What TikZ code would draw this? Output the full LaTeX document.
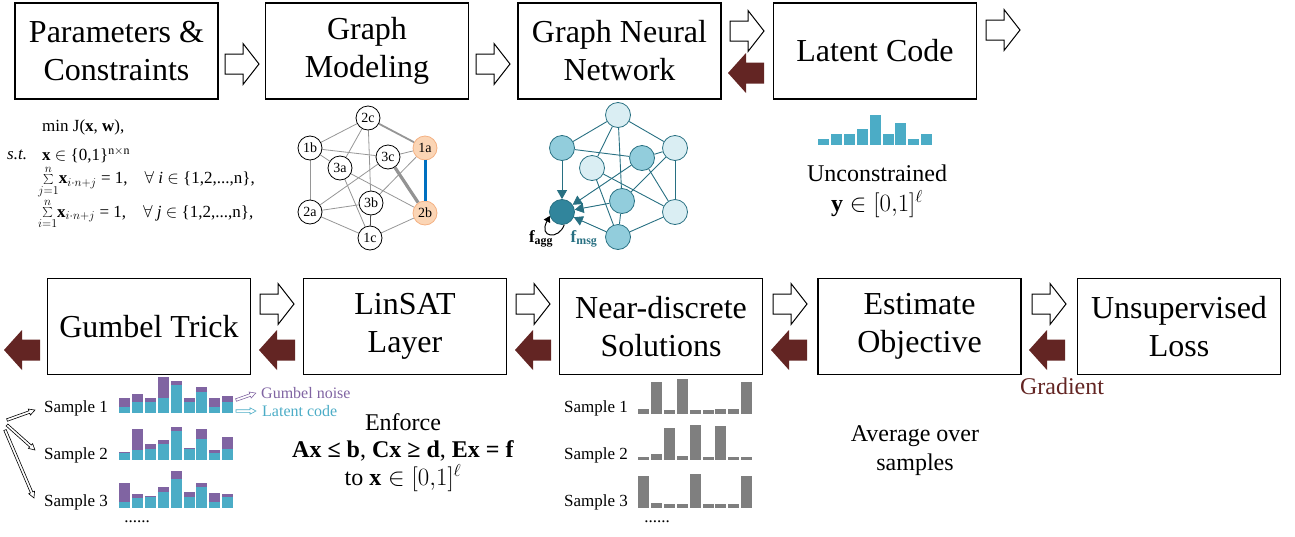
\documentclass[tikz,border=0pt]{standalone}
\usepackage{fontspec}
\setmainfont{Liberation Serif}
\usetikzlibrary{arrows.meta,backgrounds}
\definecolor{darkred}{RGB}{99,37,35}
\definecolor{tealbar}{RGB}{75,172,198}
\definecolor{purp}{RGB}{128,100,162}
\definecolor{gbar}{RGB}{127,127,127}
\definecolor{gline}{RGB}{150,150,150}
\definecolor{blueedge}{RGB}{0,112,192}
\definecolor{orfill}{RGB}{251,213,181}
\definecolor{ordraw}{RGB}{244,177,131}
\definecolor{gnnlight}{RGB}{218,238,243}
\definecolor{gnnmed}{RGB}{146,205,220}
\definecolor{gnndark}{RGB}{49,133,156}
\definecolor{gnnedge}{RGB}{40,112,130}
\tikzset{
  box/.style={draw, line width=1.2pt, minimum width=203pt, minimum height=96pt,
    align=center, inner sep=0pt, font=\fontsize{32}{38}\selectfont},
  txt/.style={inner sep=0pt, font=\fontsize{24}{29}\selectfont, align=center},
  small/.style={inner sep=0pt, font=\fontsize{17}{20}\selectfont},
  formula/.style={inner sep=0pt, anchor=west, font=\fontsize{17}{20}\selectfont},
  warrow/.pic={\draw[line width=1pt, fill=white] (-17,-10) -- (1,-10) -- (1,-20.5) -- (17,0) -- (1,20.5) -- (1,10) -- (-17,10) -- cycle;},
  darrow/.pic={\fill[darkred] (-18,0) -- (0,-20) -- (0,-10.5) -- (18,-10.5) -- (18,10.5) -- (0,10.5) -- (0,20) -- cycle;},
  hollow/.pic={\draw[pic actions, line width=0.6pt, fill=white] (0,-1.3) -- ({#1-6},-1.3) -- ({#1-6},-3.2) -- (#1,0) -- ({#1-6},3.2) -- ({#1-6},1.3) -- (0,1.3) -- cycle;},
  gnode/.style={circle, draw, line width=0.8pt, minimum size=24pt, inner sep=0pt, fill=white, font=\fontsize{14}{14}\selectfont},
  nnode/.style={circle, draw=gnnedge, line width=0.8pt, minimum size=25pt, inner sep=0pt},
  gedge/.style={draw=gline, line width=0.8pt},
  nedge/.style={draw=gnnedge, line width=0.9pt},
  msg/.style={-{Triangle[length=9pt,width=10pt]}, draw=gnnedge, fill=gnnedge, line width=0.9pt}
}
\begin{document}
\begin{tikzpicture}[x=1pt,y=-1pt]
\useasboundingbox (0,0) rectangle (1295,536);
% ---------- top row boxes ----------
\node[box] (params) at (116.5,51) {Parameters \&\\Constraints};
\node[box] (model) at (367,51) {Graph\\Modeling};
\node[box] (gnn) at (619.5,51) {Graph Neural\\Network};
\node[box] (latent) at (875,51) {Latent Code};
% ---------- bottom row boxes ----------
\node[box] (gumbel) at (149,326.5) {Gumbel Trick};
\node[box] (linsat) at (405,326.5) {LinSAT\\Layer};
\node[box] (near) at (661,326.5) {Near-discrete\\Solutions};
\node[box] (est) at (919.5,326.5) {Estimate\\Objective};
\node[box] (loss) at (1179,326.5) {Unsupervised\\Loss};
% ---------- block arrows ----------
\pic at (242,64) {warrow};
\pic at (493,64) {warrow};
\pic at (747,31) {warrow};
\pic at (746,73) {darrow};
\pic at (1003,30) {warrow};
\pic at (277,304) {warrow};
\pic at (277,350) {darrow};
\pic at (533,304) {warrow};
\pic at (533,350) {darrow};
\pic at (790,304) {warrow};
\pic at (789,350) {darrow};
\pic at (1049,304) {warrow};
\pic at (1047,350) {darrow};
\pic at (22,350) {darrow};
\node[txt, text=darkred] (grad) at (1062,386) {Gradient};
% ---------- formula ----------
\node[formula] (f1) at (42,127) {min J(\textbf{x}, \textbf{w}),};
\node[formula] (f2a) at (7,155) {\textit{s.t.}};
\node[formula] (f2) at (42,155) {\textbf{x} $\in$ \{0,1\}$^{\mathrm{n}\times\mathrm{n}}$};
\node[formula] (f3) at (38,182) {$\sum\limits_{j=1}^{n}$\textbf{x}$_{i\cdot n+j}$ = 1,\quad$\forall$ \textit{i} $\in$ \{1,2,...,n\},};
\node[formula] (f4) at (38,214) {$\sum\limits_{i=1}^{n}$\textbf{x}$_{i\cdot n+j}$ = 1,\quad$\forall$ \textit{j} $\in$ \{1,2,...,n\},};
% ---------- graph modeling ----------
\node[gnode] (n2c) at (368,118) {2c};
\node[gnode] (n1b) at (310,148) {1b};
\node[gnode] (n3a) at (340,168) {3a};
\node[gnode] (n3c) at (388,157) {3c};
\node[gnode, fill=orfill, draw=ordraw] (n1a) at (425,148) {1a};
\node[gnode] (n2a) at (310,212) {2a};
\node[gnode] (n3b) at (371,203) {3b};
\node[gnode, fill=orfill, draw=ordraw] (n2b) at (425,213) {2b};
\node[gnode] (n1c) at (370,238) {1c};
\begin{scope}[on background layer]
\draw[gedge] (n2c) -- (n1b);
\draw[gedge] (n2c) -- (n3a);
\draw[gedge] (n2c) -- (n3b);
\draw[gedge, line width=1.8pt] (n2c) -- (n1a);
\draw[gedge] (n1b) -- (n3c);
\draw[gedge] (n1b) -- (n3a);
\draw[gedge] (n1b) -- (n2a);
\draw[gedge] (n3a) -- (n2b);
\draw[gedge] (n3a) -- (n1c);
\draw[gedge] (n3c) -- (n2a);
\draw[gedge] (n3c) -- (n1a);
\draw[gedge, line width=3.2pt, draw=gray!85] (n3c) -- (n2b);
\draw[gedge] (n1a) -- (n3b);
\draw[gedge] (n2a) -- (n3b);
\draw[gedge] (n2a) -- (n1c);
\draw[gedge, draw=black!70] (n3b) -- (n1c);
\draw[gedge] (n1c) -- (n2b);
\end{scope}
\draw[blueedge, line width=3pt] (n1a) -- (n2b);
% ---------- GNN ----------
\node[nnode, fill=gnnlight] (gtop) at (618,115) {};
\node[nnode, fill=gnnmed] (glu) at (562,148) {};
\node[nnode, fill=gnnlight] (gru) at (675,148) {};
\node[nnode, fill=gnnlight] (gil) at (592,168) {};
\node[nnode, fill=gnnmed] (gir) at (642,158) {};
\node[nnode, fill=gnnmed] (gcl) at (622,201) {};
\node[nnode, fill=gnnlight] (grl) at (675,212) {};
\node[nnode, fill=gnnmed] (gbot) at (618,237) {};
\node[nnode, fill=gnndark] (gtg) at (562,212) {};
\begin{scope}[on background layer]
\draw[nedge] (gtop) -- (glu);
\draw[nedge] (gtop) -- (gil);
\draw[nedge] (gtop) -- (gcl);
\draw[nedge] (gtop) -- (gru);
\draw[nedge] (glu) -- (gir);
\draw[nedge] (gil) -- (grl);
\draw[nedge] (gil) -- (gbot);
\draw[nedge] (gir) -- (gru);
\draw[nedge] (gir) -- (grl);
\draw[nedge] (gru) -- (grl);
\draw[nedge] (gru) -- (gcl);
\draw[nedge] (gcl) -- (gbot);
\draw[nedge] (gbot) -- (grl);
\end{scope}
\draw[msg] (glu) -- (gtg);
\draw[msg] (gir) -- (gtg);
\draw[msg] (gcl) -- (gtg);
\draw[msg] (gbot) -- (gtg);
\draw[line width=1pt, -{Triangle[length=6pt,width=7pt]}] (gtg.-80) .. controls (559,240) and (538,238) .. (gtg.198);
\node[small] (fagg) at (541,239) {$\mathbf{f}_{\mathbf{agg}}$};
\node[small, text=gnnedge] (fmsg) at (584,239) {$\mathbf{f}_{\mathbf{msg}}$};
% ---------- latent code ----------
\foreach \h [count=\i from 0] in {6,11,11,16,30,11,22,6,11}
  \fill[tealbar] ({818+\i*12.9},145) rectangle ++(11,-\h);
\node[txt] (unc) at (877,173) {Unconstrained};
\node[txt] (ydom) at (877,204) {$\mathbf{y}\in[0{,}1]^{\ell}$};
% ---------- gumbel samples ----------
\node[small] (gs1) at (76,408) {Sample 1};
\node[small] (gs2) at (76,455) {Sample 2};
\node[small] (gs3) at (76,502) {Sample 3};
\foreach \t/\s [count=\i from 0] in {6/15,11/19,11/15,15/36,28/32,11/15,21/26,6/15,11/17}{
  \fill[tealbar] ({119+\i*12.9},413) rectangle ++(11,-\t);
  \fill[purp] ({119+\i*12.9},{413-\t}) rectangle ++(11,{-(\s-\t)});}
\foreach \t/\s [count=\i from 0] in {7/8,10/31,11/16,16/20,29/33,11/12,21/31,7/10,11/23}{
  \fill[tealbar] ({119+\i*12.9},460) rectangle ++(11,-\t);
  \fill[purp] ({119+\i*12.9},{460-\t}) rectangle ++(11,{-(\s-\t)});}
\foreach \t/\s [count=\i from 0] in {6/25,10/14,11/12,16/21,29/37,11/16,21/25,6/15,11/14}{
  \fill[tealbar] ({119+\i*12.9},508) rectangle ++(11,-\t);
  \fill[purp] ({119+\i*12.9},{508-\t}) rectangle ++(11,{-(\s-\t)});}
\node[small] (gdots) at (137,522) {......};
\pic[draw=purp, rotate=19.3] at (236,400) {hollow=21};
\pic[draw=tealbar] at (236,411) {hollow=20};
\node[inner sep=0pt, anchor=west, text=purp, font=\fontsize{16}{18}\selectfont] (gnoise) at (261,393) {Gumbel noise};
\node[inner sep=0pt, anchor=west, text=tealbar, font=\fontsize{16}{18}\selectfont] (lcode) at (262,411) {Latent code};
\pic[draw=black, rotate=19.6] at (7,420) {hollow=29.7};
\pic[draw=black, rotate=-41.8] at (7,425) {hollow=37.5};
\pic[draw=black, rotate=-66.9] at (5,430) {hollow=73.9};
% ---------- linsat text ----------
\node[txt] (enf) at (403,422) {Enforce};
\node[txt] (cons) at (403,451) {\textbf{Ax ≤ b}, \textbf{Cx ≥ d}, \textbf{Ex = f}};
\node[txt] (tox) at (403,478) {to $\mathbf{x}\in[0{,}1]^{\ell}$};
% ---------- near-discrete samples ----------
\node[small] (ns1) at (596,408) {Sample 1};
\node[small] (ns2) at (596,455) {Sample 2};
\node[small] (ns3) at (596,502) {Sample 3};
\foreach \h [count=\i from 0] in {5,32,4,35,4,4,5,5,32}
  \fill[gbar] ({638+\i*12.9},414) rectangle ++(11,-\h);
\foreach \h [count=\i from 0] in {3,6,32,4,35,3,34,3,3}
  \fill[gbar] ({638+\i*12.9},460) rectangle ++(11,-\h);
\foreach \h [count=\i from 0] in {32,5,4,4,34,4,4,4,32}
  \fill[gbar] ({638+\i*12.9},508) rectangle ++(11,-\h);
\node[small] (ndots) at (657,522) {......};
% ---------- estimate text ----------
\node[txt] (avg) at (915,451) {Average over\\samples};
\end{tikzpicture}
\end{document}
